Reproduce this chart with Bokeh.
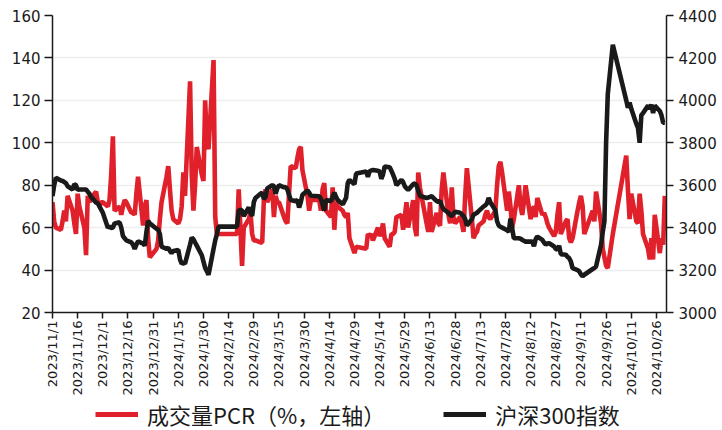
import math
import pandas as pd
from bokeh.plotting import figure
from bokeh.layouts import column
from bokeh.models import Range1d, LinearAxis, FixedTicker, Legend, LegendItem, ColumnDataSource
from bokeh.embed import file_html
from bokeh.resources import INLINE

# ---- calendar: SSE trading days, 2023-11-01 .. 2024-10-31 ----
holidays = ["2024-01-01", "2024-02-09", "2024-02-12", "2024-02-13", "2024-02-14",
            "2024-02-15", "2024-02-16", "2024-04-04", "2024-04-05", "2024-05-01",
            "2024-05-02", "2024-05-03", "2024-06-10", "2024-09-16", "2024-09-17",
            "2024-10-01", "2024-10-02", "2024-10-03", "2024-10-04", "2024-10-07"]
days = pd.bdate_range("2023-11-01", "2024-10-31")
days = days[~days.isin(pd.to_datetime(holidays))]

# ---- 成交量PCR (%), left axis, by month ----
pcr_nov = [72, 63, 60, 59, 63, 68, 63, 75, 68, 62, 57, 76, 70, 60, 47, 75, 72, 74, 77, 72, 70, 72]
pcr_dec = [72, 70, 73, 85, 103, 68, 70, 66, 70, 73, 72, 67, 67, 66, 76, 84, 61, 70, 73, 55, 46]
pcr_jan = [50, 54, 64, 72, 84, 89, 78, 68, 64, 62, 64, 70, 86, 75, 129, 85, 68, 80, 98, 85, 82, 120]
pcr_feb = [100, 97, 139, 65, 57, 57, 57, 78, 60, 42, 60, 64, 67, 57, 54]
pcr_mar = [54, 53, 53, 73, 78, 72, 78, 65, 75, 72, 72, 65, 63, 62, 76, 89, 88, 93, 97, 98, 87]
pcr_apr = [75, 68, 73, 73, 68, 78, 81, 68, 65, 79, 59, 72, 70, 68, 66, 65, 67, 55, 48, 51]
pcr_may = [50, 57, 56, 57, 54, 60, 56, 58, 62, 55, 51, 57, 57, 58, 65, 66, 59, 65, 72, 60]
pcr_jun = [73, 60, 56, 86, 79, 62, 58, 72, 58, 67, 62, 61, 78, 86, 66, 62, 79, 65, 62]
pcr_jul = [65, 62, 58, 75, 88, 64, 55, 57, 58, 61, 63, 66, 68, 65, 64, 68, 80, 89, 91, 86, 68, 77, 70]
pcr_aug = [60, 64, 80, 70, 66, 72, 80, 64, 68, 70, 65, 74, 66, 67, 65, 62, 60, 56, 58, 66, 72, 57]
pcr_sep = [63, 64, 55, 53, 55, 68, 72, 75, 70, 57, 68, 63, 77, 62, 50, 46, 42, 41, 57]
pcr_oct = [94, 78, 64, 76, 63, 62, 76, 68, 57, 50, 45, 55, 45, 66, 48, 55, 52, 75]

# ---- 沪深300指数, right axis, by month ----
csi_nov = [3549, 3600, 3635, 3622, 3620, 3615, 3610, 3595, 3580, 3605, 3600, 3578, 3580, 3580,
           3580, 3570, 3560, 3545, 3518, 3515, 3500, 3485]
csi_dec = [3470, 3400, 3405, 3398, 3400, 3420, 3425, 3400, 3360, 3350, 3340, 3330, 3320, 3300,
           3320, 3335, 3325, 3315, 3380, 3432, 3420]
csi_jan = [3395, 3390, 3370, 3310, 3300, 3305, 3290, 3280, 3290, 3295, 3250, 3230, 3235, 3230,
           3320, 3354, 3345, 3330, 3315, 3270, 3240, 3210]
csi_feb = [3195, 3178, 3300, 3340, 3370, 3405, 3405, 3480, 3485, 3480, 3455, 3495, 3470, 3455, 3520]
csi_mar = [3540, 3560, 3565, 3535, 3545, 3585, 3600, 3595, 3560, 3585, 3600, 3590, 3592, 3580,
           3555, 3530, 3525, 3530, 3495, 3520, 3555]
csi_apr = [3575, 3565, 3550, 3548, 3535, 3510, 3480, 3530, 3525, 3545, 3565, 3545, 3530, 3510,
           3525, 3540, 3610, 3625, 3605, 3655]
csi_may = [3665, 3640, 3665, 3670, 3672, 3668, 3665, 3630, 3650, 3688, 3685, 3668, 3650, 3630,
           3600, 3625, 3615, 3595, 3585, 3578]
csi_jun = [3605, 3608, 3600, 3575, 3550, 3540, 3542, 3545, 3548, 3525, 3522, 3525, 3505, 3488,
           3470, 3460, 3455, 3465, 3475]
csi_jul = [3470, 3462, 3455, 3440, 3410, 3440, 3462, 3465, 3470, 3478, 3500, 3505, 3515, 3540,
           3520, 3482, 3430, 3410, 3404, 3400, 3388, 3380, 3443]
csi_aug = [3397, 3350, 3350, 3348, 3342, 3338, 3334, 3334, 3334, 3312, 3345, 3358, 3342, 3330,
           3320, 3325, 3327, 3311, 3300, 3295, 3315, 3275]
csi_sep = [3272, 3262, 3256, 3240, 3209, 3200, 3194, 3180, 3170, 3178, 3205, 3210, 3217, 3320,
           3380, 3430, 3800, 4030, 4262]
csi_oct = [4000, 3965, 3990, 3960, 3890, 3870, 3800, 3930, 3940, 3975, 3960, 3980, 3940, 3975,
           3950, 3930, 3895, 3895]

pcr = (pcr_nov + pcr_dec + pcr_jan + pcr_feb + pcr_mar + pcr_apr + pcr_may + pcr_jun
       + pcr_jul + pcr_aug + pcr_sep + pcr_oct)
csi = (csi_nov + csi_dec + csi_jan + csi_feb + csi_mar + csi_apr + csi_may + csi_jun
       + csi_jul + csi_aug + csi_sep + csi_oct)
assert len(pcr) == len(days) == len(csi), (len(pcr), len(csi), len(days))

left_ticks = [20, 40, 60, 80, 100, 120, 140, 160]
right_ticks = [3000, 3200, 3400, 3600, 3800, 4000, 4200, 4400]
x_tick_dates = pd.date_range("2023-11-01", "2024-10-31", freq="15D")
x_tick_labels = [f"{d.year}/{d.month}/{d.day}" for d in x_tick_dates]
series_names = ["成交量PCR（%，左轴）", "沪深300指数"]

def ms(ts):
    return float(pd.Timestamp(ts).value // 10**6)

xs = [ms(d) for d in days]
x_ticks = [ms(d) for d in x_tick_dates]

RED = "#E0202A"
BLACK = "#1A1A1A"
TICK_FONT = "DejaVu Sans"
LW = 4.6

p = figure(width=722, height=398, output_backend="svg", toolbar_location=None,
           x_range=Range1d(ms("2023-11-01"), ms("2024-11-01")),
           y_range=Range1d(20, 160),
           min_border_left=52, min_border_right=56, min_border_top=15, min_border_bottom=84)
p.extra_y_ranges = {"right": Range1d(3000, 4400)}
p.outline_line_color = None
p.background_fill_color = "white"
p.border_fill_color = "white"

src = ColumnDataSource(dict(x=xs, pcr=pcr, csi=csi))
p.line("x", "pcr", source=src, color=RED, line_width=LW)
p.line("x", "csi", source=src, color=BLACK, line_width=LW, y_range_name="right")

def style_axis(ax, size, tick_out, standoff):
    ax.major_label_text_font = TICK_FONT
    ax.major_label_text_font_size = size
    ax.major_label_text_color = BLACK
    ax.major_tick_out = tick_out
    ax.major_tick_in = 0
    ax.minor_tick_out = 0
    ax.minor_tick_in = 0
    ax.major_label_standoff = standoff
    ax.axis_line_width = 1.5
    ax.axis_line_color = BLACK
    ax.major_tick_line_width = 1.5
    ax.major_tick_line_color = BLACK

xa = p.xaxis[0]
xa.ticker = FixedTicker(ticks=x_ticks)
xa.major_label_overrides = {t: lab for t, lab in zip(x_ticks, x_tick_labels)}
xa.major_label_orientation = math.pi / 2
style_axis(xa, "13px", 6, 2)

ya = p.yaxis[0]
ya.ticker = FixedTicker(ticks=left_ticks)
style_axis(ya, "15px", 8, 4)

ra = LinearAxis(y_range_name="right", ticker=FixedTicker(ticks=right_ticks))
style_axis(ra, "15px", 7, 5)
p.add_layout(ra, "right")

p.xgrid.visible = False
p.ygrid.ticker = FixedTicker(ticks=left_ticks)
p.ygrid.grid_line_color = "#EDEDED"
p.ygrid.grid_line_width = 1.5

# legend strip underneath (its lines use the same data, outside this strip's ranges)
lg = figure(width=722, height=32, output_backend="svg", toolbar_location=None,
            x_range=Range1d(0, 1), y_range=Range1d(0, 1),
            min_border=0, x_axis_type=None, y_axis_type=None)
lg.outline_line_color = None
lg.grid.visible = False
l1 = lg.line("x", "pcr", source=src, color=RED, line_width=LW + 0.4)
l2 = lg.line("x", "csi", source=src, color=BLACK, line_width=LW + 0.4)
legend = Legend(items=[LegendItem(label=series_names[0], renderers=[l1]),
                       LegendItem(label=series_names[1], renderers=[l2])],
                orientation="horizontal", location=(43, 0),
                label_text_font="Noto Sans CJK SC", label_text_font_size="22px",
                label_text_color=BLACK, label_text_baseline="middle",
                glyph_width=43, glyph_height=20, spacing=58, label_standoff=9,
                padding=0, margin=0, border_line_color=None, background_fill_alpha=0)
lg.add_layout(legend, "center")

open("out.html", "w").write(file_html(column(p, lg, spacing=0), INLINE))
